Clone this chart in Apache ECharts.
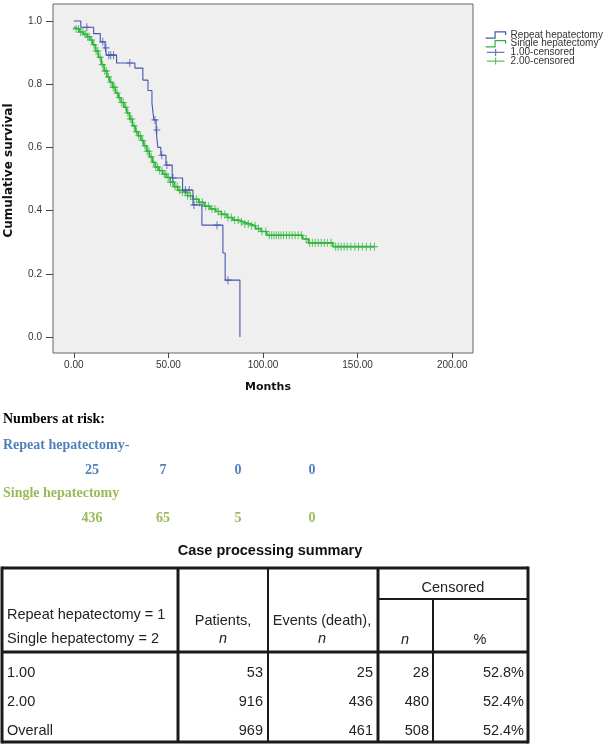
<!DOCTYPE html>
<html><head><meta charset="utf-8">
<script src="https://cdn.jsdelivr.net/npm/echarts@6/dist/echarts.min.js"></script>
<style>html,body{margin:0;padding:0;background:#fff}#c{width:612px;height:745px}</style>
</head><body><div id="c"></div>
<script>
// ---------- data ----------
const xTicks = [0, 50, 100, 150, 200];
const yTicks = [0, 0.2, 0.4, 0.6, 0.8, 1.0];
const seriesNames = ['Repeat hepatectomy', 'Single hepatectomy', '1.00-censored', '2.00-censored'];

// Repeat hepatectomy (group 1.00): KM step times (months) and survival after each step
const repeatTimes = [0, 3.7, 10.5, 14, 16.5, 17.3, 22.6, 32.3, 36.5, 39.2, 41.3, 42.3, 43.5, 44.4, 46, 48.7, 52, 57.5, 63, 67.7, 78.8, 80, 87.8];
const repeatSurv  = [1.0, 0.98, 0.96, 0.934, 0.915, 0.892, 0.867, 0.851, 0.813, 0.78, 0.74, 0.687, 0.655, 0.60, 0.575, 0.544, 0.503, 0.465, 0.418, 0.354, 0.266, 0.18, 0.0];
const repeatCensorTimes = [6.9, 15.3, 17, 18.5, 19.5, 21, 29.6, 42.9, 43.9, 46.5, 49.2, 52.4, 59, 61, 63.5, 75.7, 81.5];

// Single hepatectomy (group 2.00)
const singleTimes = [0, 1, 3, 5, 7, 8.5, 10, 11.5, 13, 14.5, 16, 17.5, 19, 20.5, 22, 23.5, 25, 26.5, 28, 29.5, 31, 32.5, 34, 35.5, 37, 38.5, 40, 41.5, 43, 45, 47, 49, 51, 53, 55, 57, 60, 63, 66, 69, 72, 75, 78, 81, 84, 87, 90, 93, 96, 99, 102, 121, 124, 137];
const singleSurv  = [0.98, 0.975, 0.965, 0.958, 0.95, 0.94, 0.925, 0.905, 0.885, 0.862, 0.842, 0.823, 0.806, 0.79, 0.772, 0.757, 0.742, 0.727, 0.709, 0.69, 0.668, 0.65, 0.637, 0.622, 0.605, 0.588, 0.57, 0.553, 0.538, 0.527, 0.515, 0.505, 0.49, 0.476, 0.464, 0.458, 0.447, 0.436, 0.426, 0.414, 0.405, 0.397, 0.388, 0.378, 0.37, 0.364, 0.358, 0.352, 0.343, 0.334, 0.322, 0.31, 0.298, 0.286];
const singleCensorTimes = [1.2, 2.5, 3.6, 4.8, 6, 7.3, 8.1, 9.4, 10.6, 11.8, 12.7, 13.9, 15.1, 16.4, 17.2, 18.3, 19.6, 20.8, 21.7, 22.9, 24.1, 25.3, 26.2, 27.4, 28.6, 29.8, 30.7, 31.9, 33.1, 34.3, 35.2, 36.4, 37.6, 38.8, 39.7, 40.9, 42.1, 43.3, 44.2, 45.4, 46.6, 47.8, 48.7, 49.9, 51.1, 52.3, 53.5, 54.7, 56, 57.4, 58.8, 60.2, 61.7, 63.3, 64.8, 66.4, 68, 69.7, 71.3, 73, 74.6, 76.3, 78, 79.8, 81.5, 83.2, 85, 86.8, 88.6, 90.4, 92.2, 94, 95.8, 97.6, 99.4, 101.5, 103.3, 104.6, 105.8, 107, 108.3, 109.5, 110.8, 112.4, 113.9, 115.4, 117, 118.6, 120.3, 122.8, 124.6, 126.1, 127.6, 129.2, 130.8, 132.4, 134, 136, 138.4, 139.8, 141.3, 142.9, 144.5, 146.4, 148.6, 150.5, 152.5, 154.6, 156.8, 158.9];

// Numbers at risk
const riskTitle = 'Numbers at risk:';
const riskGroupLabels = ['Repeat hepatectomy-', 'Single hepatectomy'];
const riskRepeat = [25, 7, 0, 0];
const riskSingle = [436, 65, 5, 0];

// Case processing summary table
const tableTitle = 'Case processing summary';
const tableHeadGroup = ['Repeat hepatectomy = 1', 'Single hepatectomy = 2'];
const tableRowLabels = ['1.00', '2.00', 'Overall'];
const tablePatients = [53, 916, 969];
const tableEvents = [25, 436, 461];
const tableCensoredN = [28, 480, 508];
const tableCensoredPct = ['52.8%', '52.4%', '52.4%'];

// ---------- build ----------
const BLUE = '#4656ad', GREEN = '#2fb53c';
const RISK_BLUE = '#4f81bd', RISK_GREEN = '#9bbb59';
function survAt(times, surv, t) { let s = surv[0]; for (let i = 0; i < times.length; i++) { if (times[i] <= t) s = surv[i]; } return s; }
function stepData(times, surv, lastT) {
  const d = times.map((t, i) => [t, surv[i]]);
  if (lastT > times[times.length - 1]) d.push([lastT, surv[surv.length - 1]]);
  return d;
}
const repeatLine = stepData(repeatTimes, repeatSurv, 0);
const singleLine = stepData(singleTimes, singleSurv, Math.max(...singleCensorTimes));
const repeatCens = repeatCensorTimes.map(t => [t, survAt(repeatTimes, repeatSurv, t)]);
const singleCens = singleCensorTimes.map(t => [t, survAt(singleTimes, singleSurv, t)]);

const plusSym = 'path://M4.3,0 L5.7,0 L5.7,4.3 L10,4.3 L10,5.7 L5.7,5.7 L5.7,10 L4.3,10 L4.3,5.7 L0,5.7 L0,4.3 L4.3,4.3 Z';
const stepIcon = 'path://M0,7 L9,7 L9,1 L19,1 L19,4';
const plusIcon = 'path://M0,4 L20,4 M10,0 L10,8';

const SANS = 'Liberation Sans, Arial, sans-serif';
const SERIF = 'Liberation Serif, Times New Roman, serif';

const g = [];
function txt(text, x, y, font, fill, align) {
  g.push({ type: 'text', silent: true, style: { text: text, x: x, y: y, font: font, fill: fill,
    align: align || 'left', textAlign: align || 'left', verticalAlign: 'middle', textVerticalAlign: 'middle' } });
}
function ln(x1, y1, x2, y2, w) {
  g.push({ type: 'line', silent: true, shape: { x1: x1, y1: y1, x2: x2, y2: y2 }, style: { stroke: '#1a1a1a', lineWidth: w } });
}
// numbers at risk
const riskX = [92, 163, 238, 312];
txt(riskTitle, 3, 419, 'bold 14px ' + SERIF, '#000', 'left');
txt(riskGroupLabels[0], 3, 445, 'bold 14px ' + SERIF, RISK_BLUE, 'left');
riskRepeat.forEach((v, i) => txt(String(v), riskX[i], 470, 'bold 14px ' + SERIF, RISK_BLUE, 'center'));
txt(riskGroupLabels[1], 3, 493, 'bold 14px ' + SERIF, RISK_GREEN, 'left');
riskSingle.forEach((v, i) => txt(String(v), riskX[i], 518, 'bold 14px ' + SERIF, RISK_GREEN, 'center'));

// table
const TF = '14.5px ' + SANS, TC = '#222';
txt(tableTitle, 270, 551, 'bold 14.5px ' + SANS, '#111', 'center');
const tL = 2, tR = 528, tT = 568, tB = 742, hB = 652;
const c1 = 178, c2 = 268, c3 = 378, c4 = 433, subY = 599;
ln(tL, tT, tR, tT, 3); ln(tL, tB, tR, tB, 3); ln(tL, tT - 1.5, tL, tB + 1.5, 3); ln(tR, tT - 1.5, tR, tB + 1.5, 3);
ln(tL, hB, tR, hB, 3);
ln(c1, tT, c1, tB, 3); ln(c2, tT, c2, tB, 2); ln(c3, tT, c3, tB, 3);
ln(c3, subY, tR, subY, 2); ln(c4, subY, c4, tB, 2);
txt(tableHeadGroup[0], 7, 615, TF, TC, 'left');
txt(tableHeadGroup[1], 7, 639, TF, TC, 'left');
txt('Patients,', 223, 621, TF, TC, 'center');
txt('n', 223, 639, 'italic ' + TF, TC, 'center');
txt('Events (death),', 322, 621, TF, TC, 'center');
txt('n', 322, 639, 'italic ' + TF, TC, 'center');
txt('Censored', 453, 588, TF, TC, 'center');
txt('n', 405, 640, 'italic ' + TF, TC, 'center');
txt('%', 480, 640, TF, TC, 'center');
const rowY = [673, 702, 731];
tableRowLabels.forEach((lab, i) => {
  txt(lab, 7, rowY[i], TF, TC, 'left');
  txt(String(tablePatients[i]), 263, rowY[i], TF, TC, 'right');
  txt(String(tableEvents[i]), 373, rowY[i], TF, TC, 'right');
  txt(String(tableCensoredN[i]), 429, rowY[i], TF, TC, 'right');
  txt(tableCensoredPct[i], 524, rowY[i], TF, TC, 'right');
});

const chart = echarts.init(document.getElementById('c'), null, { renderer: 'canvas' });
chart.setOption({
  animation: false,
  backgroundColor: '#ffffff',
  grid: { left: 53, top: 4, width: 420, height: 349, show: true, backgroundColor: '#efefef', borderColor: '#666', borderWidth: 1, containLabel: false, outerBoundsMode: 'none' },
  xAxis: {
    type: 'value', min: -11, max: 211,
    axisLine: { show: false, onZero: false },
    axisTick: { show: true, customValues: xTicks, length: 5, inside: false, lineStyle: { color: '#444' } },
    axisLabel: { customValues: xTicks, formatter: v => v.toFixed(2), fontSize: 10, color: '#333', margin: 7, fontFamily: SANS },
    splitLine: { show: false },
    name: 'Months', nameLocation: 'middle', nameGap: 29,
    nameTextStyle: { fontSize: 11, fontWeight: 'bold', color: '#111', fontFamily: 'DejaVu Sans', padding: [0, 0, 0, 10] }
  },
  yAxis: {
    type: 'value', min: -0.0506, max: 1.0538,
    axisLine: { show: false, onZero: false },
    axisTick: { show: true, customValues: yTicks, length: 7, inside: false, lineStyle: { color: '#444' } },
    axisLabel: { customValues: yTicks, formatter: v => v.toFixed(1), fontSize: 10, color: '#333', margin: 11, fontFamily: SANS },
    splitLine: { show: false },
    name: 'Cumulative survival', nameLocation: 'middle', nameGap: 38, nameRotate: 90,
    nameTextStyle: { fontSize: 12, fontWeight: 'bold', color: '#111', fontFamily: 'DejaVu Sans', padding: [0, 0, 0, 16] }
  },
  legend: {
    orient: 'vertical', left: 480, top: 25, itemWidth: 20, itemHeight: 7, itemGap: -1.3,
    textStyle: { fontSize: 10, color: '#333', fontFamily: SANS },
    data: [
      { name: seriesNames[0], icon: stepIcon, itemStyle: { color: 'transparent', borderColor: BLUE, borderWidth: 1.2 } },
      { name: seriesNames[1], icon: stepIcon, itemStyle: { color: 'transparent', borderColor: GREEN, borderWidth: 1.2 } },
      { name: seriesNames[2], icon: plusIcon, itemStyle: { color: 'transparent', borderColor: BLUE, borderWidth: 1.2 } },
      { name: seriesNames[3], icon: plusIcon, itemStyle: { color: 'transparent', borderColor: GREEN, borderWidth: 1.2 } }
    ]
  },
  series: [
    { name: seriesNames[0], type: 'line', step: 'end', data: repeatLine, showSymbol: false, symbol: 'none', color: BLUE, lineStyle: { width: 1.1, color: BLUE }, z: 3 },
    { name: seriesNames[1], type: 'line', step: 'end', data: singleLine, showSymbol: false, symbol: 'none', color: GREEN, lineStyle: { width: 1.6, color: GREEN }, z: 2 },
    { name: seriesNames[2], type: 'scatter', data: repeatCens, symbol: plusSym, symbolSize: [7, 8], itemStyle: { color: BLUE }, z: 4 },
    { name: seriesNames[3], type: 'scatter', data: singleCens, symbol: plusSym, symbolSize: [7, 8], itemStyle: { color: GREEN }, z: 2 }
  ],
  graphic: g
});
</script>
</body></html>
